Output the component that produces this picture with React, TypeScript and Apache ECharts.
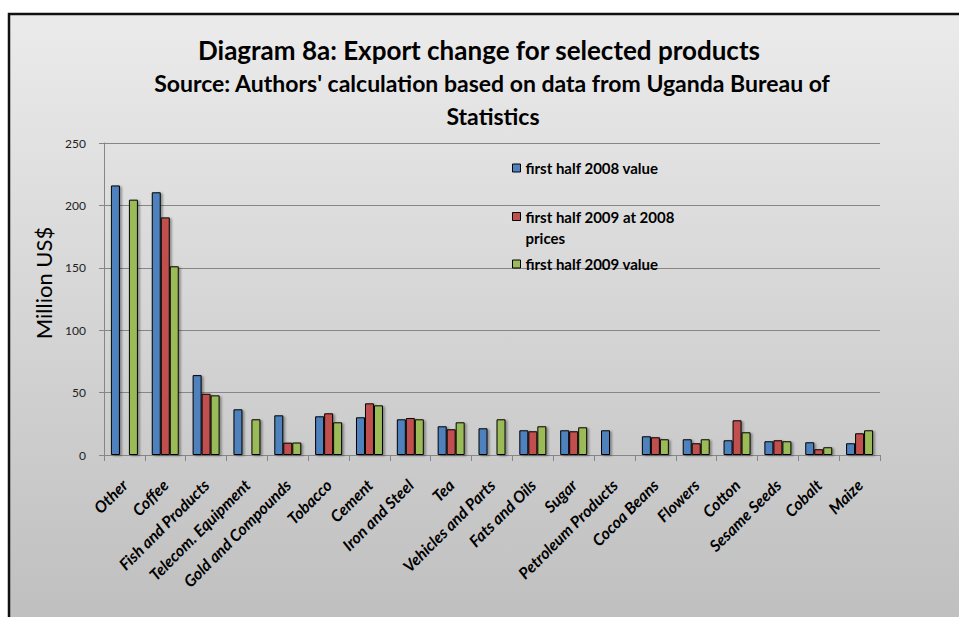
import React, { useEffect, useRef } from "react";
import * as echarts from "echarts";

const categories = [
  "Other", "Coffee", "Fish and Products", "Telecom. Equipment", "Gold and Compounds",
  "Tobacco", "Cement", "Iron and Steel", "Tea", "Vehicles and Parts", "Fats and Oils",
  "Sugar", "Petroleum Products", "Cocoa Beans", "Flowers", "Cotton", "Sesame Seeds",
  "Cobalt", "Maize",
];
const value2008 = [216, 210.5, 64, 36.6, 31.8, 31, 30.2, 28.6, 23, 21.4, 19.8, 19.8, 19.8, 15, 12.6, 11.8, 11, 10.2, 9.4];
const value2009at2008 = [null, 190.4, 49.1, null, 9.9, 33.4, 41.4, 29.6, 20.6, null, 19, 19, 0.5, 14.2, 9.4, 27.8, 11.8, 4.6, 17.4];
const value2009 = [204.6, 151.2, 47.8, 28.6, 10, 26.2, 39.8, 28.6, 26.2, 28.6, 23, 22.2, 0.5, 12.6, 12.6, 18.2, 11, 6.2, 19.8];
const seriesNames = ["first half 2008 value", "first half 2009 at 2008 prices", "first half 2009 value"];
const legendLabels = ["first half 2008 value", "\nfirst half 2009 at 2008\nprices", "first half 2009 value"];
const seriesColors = ["#4f81bd", "#c0504d", "#9bbb59"];
const yTicks = { min: 0, max: 250, interval: 50 };

const FONT = "Lato, 'Open Sans', sans-serif";

export default function App() {
  const ref = useRef<HTMLDivElement>(null);
  useEffect(() => {
    if (!ref.current) return;
    const chart = echarts.init(ref.current, undefined, { renderer: "svg" });
    const seriesData = [value2008, value2009at2008, value2009];
    const legendTops = [157.5, 185, 253.5];
    chart.setOption({
      animation: false,
      graphic: [
        {
          type: "rect",
          z: -100,
          silent: true,
          shape: { x: 9, y: 14, width: 960, height: 610 },
          style: {
            fill: new echarts.graphic.LinearGradient(0, 0, 0, 1, [
              { offset: 0, color: "#ebebeb" },
              { offset: 1, color: "#bfbfbf" },
            ]),
            stroke: "#111",
            lineWidth: 2.5,
          },
        },
        {
          type: "text",
          x: 479,
          y: 50,
          style: {
            text: "Diagram 8a: Export change for selected products",
            font: `bold 26px ${FONT}`,
            fill: "#000",
            textAlign: "center",
            textVerticalAlign: "middle",
          },
        },
        {
          type: "text",
          x: 492,
          y: 83,
          style: {
            text: "Source: Authors' calculation based on data from Uganda Bureau of",
            font: `bold 23px ${FONT}`,
            fill: "#000",
            textAlign: "center",
            textVerticalAlign: "middle",
          },
        },
        {
          type: "text",
          x: 493,
          y: 116,
          style: {
            text: "Statistics",
            font: `bold 23px ${FONT}`,
            fill: "#000",
            textAlign: "center",
            textVerticalAlign: "middle",
          },
        },
      ],
      legend: seriesNames.map((name, i) => ({
        data: [{ name }],
        formatter: () => legendLabels[i],
        orient: "vertical",
        left: 512,
        top: legendTops[i],
        padding: 0,
        icon: "rect",
        itemWidth: 8,
        itemHeight: 8,
        itemGap: 5,
        textStyle: {
          fontFamily: FONT,
          fontWeight: "bold",
          fontSize: 15,
          color: "#000",
          lineHeight: 21,
        },
        itemStyle: { borderColor: "#000", borderWidth: 1, shadowBlur: 0, shadowOffsetX: 0, shadowOffsetY: 0 },
      })),
      grid: { left: 104, right: 79, top: 143, bottom: 162, containLabel: false },
      xAxis: {
        type: "category",
        data: categories,
        axisLine: { lineStyle: { color: "#868686", width: 1 } },
        axisTick: { show: true, length: 6, lineStyle: { color: "#868686" } },
        axisLabel: {
          rotate: 45,
          interval: 0,
          margin: 27,
          fontFamily: FONT,
          fontWeight: "bold",
          fontStyle: "italic",
          fontSize: 16,
          color: "#000",
        },
      },
      yAxis: {
        type: "value",
        min: yTicks.min,
        max: yTicks.max,
        interval: yTicks.interval,
        name: "Million US$",
        nameLocation: "middle",
        nameGap: 48,
        nameTextStyle: { fontFamily: FONT, fontSize: 22, color: "#000", padding: [0, 0, 0, 32] },
        axisLine: { show: true, lineStyle: { color: "#868686", width: 1 } },
        axisTick: { show: true, length: 5, lineStyle: { color: "#868686" } },
        axisLabel: { fontFamily: FONT, fontSize: 12, color: "#222", margin: 18 },
        splitLine: { lineStyle: { color: "#868686", width: 1 } },
      },
      series: seriesNames.map((name, i) => ({
        name,
        type: "bar",
        data: seriesData[i],
        barWidth: 9,
        barGap: "0%",
        itemStyle: {
          color: seriesColors[i],
          borderColor: "#000",
          borderWidth: 1,
          shadowColor: "rgba(0,0,0,0.35)",
          shadowBlur: 2,
          shadowOffsetX: 2,
          shadowOffsetY: 1,
        },
      })),
    });
    return () => chart.dispose();
  }, []);
  return (
    <div
      ref={ref}
      style={{ position: "fixed", left: 0, top: 0, width: 959, height: 617, background: "#fff" }}
    />
  );
}
